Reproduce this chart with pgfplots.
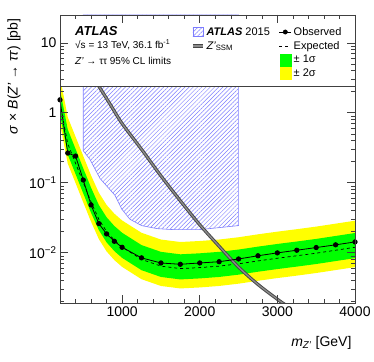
\documentclass[border=0pt]{standalone}
\usepackage{fontspec}
\setmainfont{Liberation Sans}
\usepackage{pgfplots}
\usepackage{pgfplotstable}
\pgfplotsset{compat=1.18}
\usepgfplotslibrary{fillbetween}
\usetikzlibrary{patterns.meta}

\definecolor{hatchblue}{RGB}{125,125,255}
\definecolor{bandgreen}{RGB}{0,255,0}
\definecolor{bandyellow}{RGB}{255,255,0}

% limits: observed, expected, +-1 sigma, +-2 sigma
\pgfplotstableread{
m    obs     exp     p1       m1       p2       m2
200  1.53    1.35    2.16     0.945    3.24     0.70
300  0.265   0.36    0.576    0.252    0.864    0.187
400  0.24    0.19    0.304    0.133    0.456    0.099
500  0.109   0.10    0.16     0.07     0.24     0.052
600  0.048   0.053   0.0848   0.0371   0.127    0.0276
700  0.026   0.030   0.048    0.021    0.072    0.0156
800  0.0185  0.020   0.032    0.014    0.048    0.0104
900  0.0145  0.0150  0.024    0.0105   0.036    0.0078
1000 0.0119  0.0120  0.0192   0.0084   0.0288   0.00624
1250 0.0084  0.0080  0.0128   0.0056   0.0192   0.00416
1500 0.0071  0.0064  0.01024  0.00448  0.01536  0.00333
1750 0.0068  0.0059  0.00944  0.00413  0.01416  0.00307
2000 0.0071  0.0061  0.00976  0.00427  0.01464  0.00317
2250 0.0074  0.0064  0.01024  0.00448  0.01536  0.00333
2500 0.0081  0.0069  0.01104  0.00483  0.01656  0.00359
2750 0.0090  0.0076  0.01216  0.00532  0.01824  0.00395
3000 0.0099  0.0083  0.01328  0.00581  0.01992  0.00432
3250 0.0108  0.0090  0.0144   0.0063   0.0216   0.00468
3500 0.0118  0.0098  0.01568  0.00686  0.02352  0.0051
3750 0.0129  0.0108  0.01728  0.00756  0.02592  0.00562
4000 0.0142  0.0119  0.01904  0.00833  0.02856  0.00619
}\limits

% Z' SSM cross section
\pgfplotstableread{
m    xs
600  3.6
700  2.4
850  1.3
1000 0.70
1250 0.30
1500 0.125
1750 0.055
2000 0.025
2250 0.0123
2500 0.0062
2750 0.0035
3000 0.00215
3100 0.0018
}\ssm

% ATLAS 2015 excluded region
\pgfplotstableread{
m    lim
500  25
500  0.286
586  0.215
715  0.115
908  0.066
995  0.042
1100 0.030
1252 0.0243
1450 0.0220
1660 0.0213
2000 0.0213
2500 0.0243
2500 25
}\run

\begin{document}
\begin{tikzpicture}
\begin{axis}[
    width=295pt, height=288pt, scale only axis,
    ymode=log, log basis y=10,
    xmin=200, xmax=4000, ymin=0.0019, ymax=25,
    axis on top,
    axis line style={black!75, line width=0.6pt},
    tick align=inside,
    major tick length=8pt, minor tick length=4pt,
    every tick/.style={black!75, line width=0.5pt},
    xtick={1000,2000,3000,4000},
    minor xtick={200,400,...,4000},
    xticklabel={\pgfmathprintnumber[assume math mode=true, 1000 sep={}]{\tick}},
    yticklabel={\pgfmathtruncatemacro\e{round(\tick)}\ifnum\e<0 10\textsuperscript{−\the\numexpr-\e\relax}\else\ifnum\e=0 1\else 10\fi\fi},
    tick label style={font=\fontsize{14}{16}\selectfont},
    xlabel={\textit{m}\textsubscript{\textit{Z'}} [GeV]},
    ylabel={\textit{σ} × \textit{B}(\textit{Z'} → \textit{ττ}) [pb]},
    label style={font=\fontsize{14}{16}\selectfont},
    xlabel style={at={(axis description cs:1,-0.139)}, anchor=east},
    ylabel style={at={(axis description cs:-0.156,1)}, anchor=east},
    legend columns=2,
    legend cell align=left,
    legend style={at={(axis description cs:0.433,0.972)}, anchor=north west,
        draw=none, fill=none, font=\fontsize{11}{12}\selectfont,
        row sep=0.5pt, /tikz/every even column/.append style={column sep=7pt}},
]
\addplot[draw=none, name path=p2, forget plot] table[x=m, y=p2]{\limits};
\addplot[draw=none, name path=m2, forget plot] table[x=m, y=m2]{\limits};
\addplot[draw=none, name path=p1, forget plot] table[x=m, y=p1]{\limits};
\addplot[draw=none, name path=m1, forget plot] table[x=m, y=m1]{\limits};
\addplot[bandyellow, forget plot] fill between[of=p2 and m2];
\addplot[bandgreen, forget plot] fill between[of=p1 and m1];
\addplot[black, dashed, line width=0.7pt, forget plot] table[x=m, y=exp]{\limits};

\addplot[hatchblue, line width=0.6pt, pattern color=hatchblue,
    pattern={Lines[angle=45, distance=3pt, line width=0.5pt]},
    forget plot] table[x=m, y=lim]{\run} -- cycle;

\addplot[black!72, line width=3.2pt, smooth, forget plot] table[x=m, y=xs]{\ssm};
\addplot[black!45, line width=1.3pt, smooth, forget plot] table[x=m, y=xs]{\ssm};

\addplot[black, line width=0.8pt, mark=*, mark size=2.2pt, forget plot] table[x=m, y=obs]{\limits};

% legend box over the top of the frame
\fill[white] (axis cs:200,2.35) rectangle (axis cs:4000,25);
\draw[black!75, line width=0.6pt] (axis cs:200,2.35) -- (axis cs:4000,2.35);

\node[anchor=west, inner sep=0pt, font=\fontsize{13}{14}\selectfont\bfseries\itshape]
    at (axis description cs:0.051,0.944) {ATLAS};
\node[anchor=west, inner sep=0pt, font=\fontsize{10}{12}\selectfont]
    at (axis description cs:0.051,0.896) {√s = 13 TeV, 36.1 fb\textsuperscript{-1}};
\node[anchor=west, inner sep=0pt, font=\fontsize{10}{12}\selectfont]
    at (axis description cs:0.051,0.84) {\textit{Z'} → ττ 95\% CL limits};

\addlegendimage{/pgfplots/legend image code/.code={
    \draw[hatchblue, line width=0.6pt, pattern color=hatchblue, pattern={Lines[angle=45, distance=3pt, line width=0.5pt]}]
        (2pt,-4.5pt) rectangle (12pt,4.5pt);}}
\addlegendentry{\textbf{\textit{ATLAS}} 2015}
\addlegendimage{/pgfplots/legend image code/.code={
    \draw[black, line width=0.8pt] (0pt,0pt) -- (12pt,0pt);
    \fill[black] (6pt,0pt) circle (2.2pt);}}
\addlegendentry{Observed}
\addlegendimage{/pgfplots/legend image code/.code={
    \draw[black!72, line width=3.2pt] (2pt,0pt) -- (12pt,0pt);
    \draw[black!45, line width=1.3pt] (2pt,0pt) -- (12pt,0pt);}}
\addlegendentry{\textit{Z'}\textsubscript{SSM}}
\addlegendimage{/pgfplots/legend image code/.code={
    \draw[black, dashed, line width=0.7pt] (0pt,0pt) -- (12pt,0pt);}}
\addlegendentry{Expected}
\addlegendimage{empty legend}
\addlegendentry{}
\addlegendimage{/pgfplots/legend image code/.code={
    \fill[bandgreen] (1pt,-6pt) rectangle (12pt,6pt);}}
\addlegendentry{± 1σ}
\addlegendimage{empty legend}
\addlegendentry{}
\addlegendimage{/pgfplots/legend image code/.code={
    \fill[bandyellow] (1pt,-6pt) rectangle (12pt,6pt);}}
\addlegendentry{± 2σ}
\end{axis}
\pgfresetboundingbox
\path[use as bounding box] ([xshift=-60pt,yshift=-58pt]current axis.south west)
    rectangle ([xshift=19pt,yshift=15pt]current axis.north east);
\end{tikzpicture}
\end{document}
